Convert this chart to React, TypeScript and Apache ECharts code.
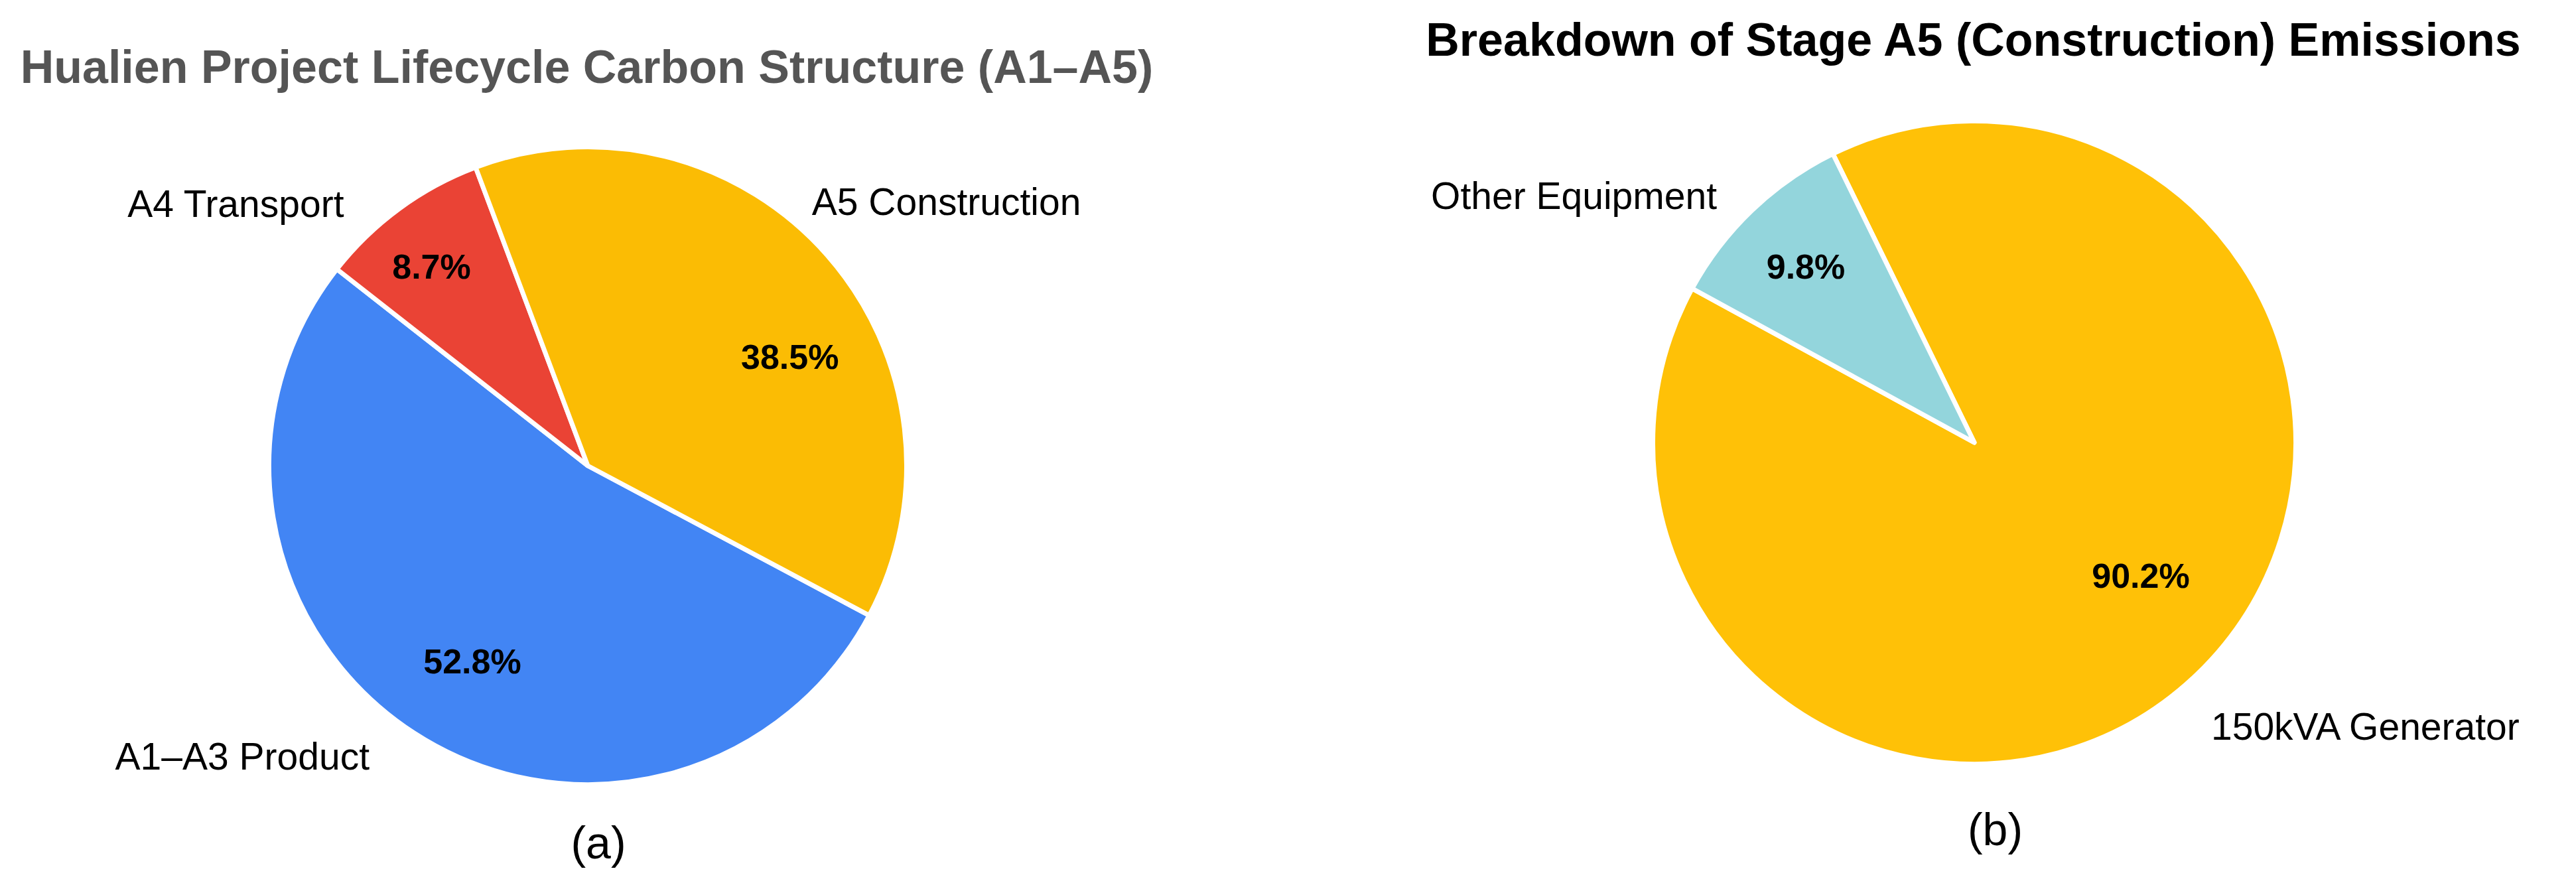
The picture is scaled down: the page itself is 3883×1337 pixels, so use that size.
import React, { useEffect, useRef } from 'react';
import * as echarts from 'echarts';

// ---------- data ----------
const stageNames = ['A1–A3 Product', 'A4 Transport', 'A5 Construction'];
const stageShares = [52.8, 8.7, 38.5];
const stageColors = ['#4285F4', '#EA4335', '#FBBC04'];

const a5Names = ['150kVA Generator', 'Other Equipment'];
const a5Shares = [90.2, 9.8];
const a5Colors = ['#FFC107', '#93D5DC'];

const titleA = 'Hualien Project Lifecycle Carbon Structure (A1–A5)';
const titleB = 'Breakdown of Stage A5 (Construction) Emissions';
const captionA = '(a)';
const captionB = '(b)';

// ---------- layout ----------
const W = 3883;
const H = 1337;
const FONT = '"Liberation Sans", Arial, Helvetica, sans-serif';
const BORDER = 7;

type Geo = {
  cx: number;
  cy: number;
  r: number;
  startAngle: number;
  pct: number[][];
  names: [number, number, string][];
};

const geoA: Geo = {
  cx: 886,
  cy: 702,
  r: 477,
  startAngle: -28.0,
  pct: [[-174, 295], [-235.5, -300.3], [304.7, -163.6]],
  names: [[-329, 438, 'right'], [-367.5, -395, 'right'], [337.8, -398, 'left']],
};

const geoB: Geo = {
  cx: 2976,
  cy: 667,
  r: 481,
  startAngle: 116.1,
  pct: [[251, 201], [-254, -265]],
  names: [[357, 428, 'left'], [-388, -372, 'right']],
};

function pieSeries(names: string[], values: number[], colors: string[], geo: Geo) {
  const common = {
    type: 'pie',
    center: [geo.cx, geo.cy],
    radius: geo.r + BORDER / 2,
    startAngle: geo.startAngle,
    clockwise: true,
    avoidLabelOverlap: false,
    percentPrecision: 1,
    silent: true,
    emphasis: { disabled: true },
    labelLine: { show: false },
  };
  return [
    {
      ...common,
      z: 2,
      data: names.map((n, i) => ({ name: n, value: values[i], itemStyle: { color: colors[i] } })),
      itemStyle: { borderColor: '#ffffff', borderWidth: BORDER },
      label: {
        show: true,
        position: 'outside',
        formatter: '{b}',
        color: '#000000',
        fontSize: 57,
        fontFamily: FONT,
      },
      labelLayout: (p: any) => {
        const o = geo.names[p.dataIndex];
        return { x: geo.cx + o[0], y: geo.cy + o[1], align: o[2], verticalAlign: 'middle' };
      },
    },
    {
      ...common,
      z: 3,
      data: names.map((n, i) => ({ name: n, value: values[i] })),
      itemStyle: { color: 'rgba(0,0,0,0)', borderWidth: 0 },
      label: {
        show: true,
        position: 'inside',
        formatter: '{d}%',
        color: '#000000',
        fontSize: 52,
        fontWeight: 'bold',
        fontFamily: FONT,
      },
      labelLayout: (p: any) => {
        const o = geo.pct[p.dataIndex];
        return { x: geo.cx + o[0], y: geo.cy + o[1], align: 'center', verticalAlign: 'middle' };
      },
    },
  ];
}

function textEl(text: string, x: number, y: number, size: number, bold: boolean, fill: string) {
  return {
    type: 'text',
    x,
    y,
    style: {
      text,
      fill,
      fontSize: size,
      fontWeight: bold ? 'bold' : 'normal',
      fontFamily: FONT,
      align: 'center',
      verticalAlign: 'middle',
      textAlign: 'center',
      textVerticalAlign: 'middle',
    },
  };
}

export default function App() {
  const ref = useRef<HTMLDivElement>(null);

  useEffect(() => {
    document.body.style.margin = '0';
    if (!ref.current) return;
    const chart = echarts.init(ref.current, undefined, { renderer: 'svg' });
    chart.setOption({
      animation: false,
      backgroundColor: '#ffffff',
      textStyle: { fontFamily: FONT },
      series: [
        ...pieSeries(stageNames, stageShares, stageColors, geoA),
        ...pieSeries(a5Names, a5Shares, a5Colors, geoB),
      ],
      graphic: [
        textEl(titleA, 884.5, 101, 70, true, '#555555'),
        textEl(titleB, 2974.5, 60, 70, true, '#000000'),
        textEl(captionA, 902, 1270, 68, false, '#000000'),
        textEl(captionB, 3007.5, 1250, 68, false, '#000000'),
      ],
    });
    return () => chart.dispose();
  }, []);

  return <div ref={ref} style={{ width: W, height: H }} />;
}
